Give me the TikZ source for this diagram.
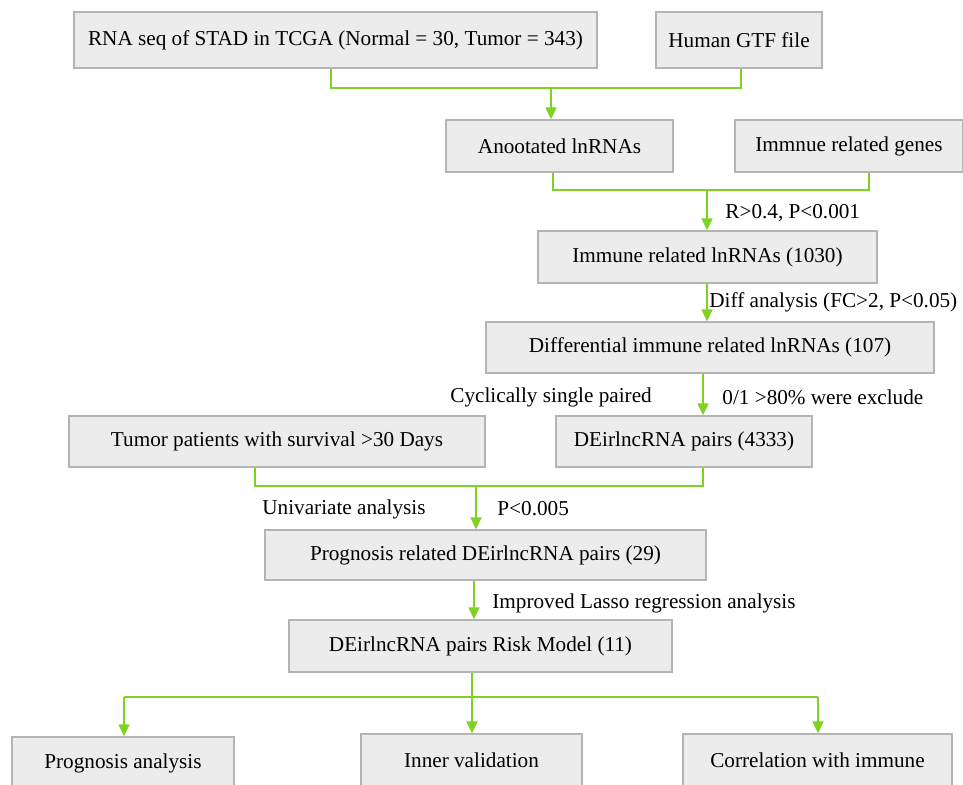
\documentclass[tikz,border=0pt]{standalone}
\usepackage{fontspec}
\setmainfont{Liberation Serif}
\usetikzlibrary{arrows.meta,positioning}
\definecolor{boxfill}{HTML}{ECECEC}
\definecolor{boxline}{HTML}{B4B4B4}
\definecolor{linkgreen}{HTML}{7ED321}

\begin{document}
\begin{tikzpicture}[
    x=0.5pt, y=-0.5pt,
    box/.style={draw=boxline, fill=boxfill, line width=0.7pt, minimum height=26pt, inner sep=0pt, align=center},
    lbl/.style={anchor=west, inner sep=0pt},
    link/.style={draw=linkgreen, line width=0.75pt},
    >={Triangle[width=5.5pt,length=6pt]},
    every node/.style={font=\fontsize{10.6}{13}\selectfont}
]
\clip (0,0) rectangle (963,784);

\node[box, minimum width=261.5pt, minimum height=28pt] (rna) at (335.5,40) {RNA seq of STAD in TCGA (Normal = 30, Tumor = 343)};
\node[box, minimum width=83pt, minimum height=28pt] (gtf) at (739,40) {Human GTF file};

\node[box, minimum width=113.5pt] (ann) at (559.5,146) {Anootated lnRNAs};
\node[box, minimum width=114pt] (genes) at (849,146) {Immnue related genes};

\node[box, minimum width=169.5pt] (irl) at (707.5,257) {Immune related lnRNAs (1030)};
\node[box, minimum width=224pt, minimum height=25.5pt] (dif) at (710,347.5) {Differential immune related lnRNAs (107)};

\node[box, minimum width=208pt, minimum height=25.5pt] (tum) at (277,441.5) {Tumor patients with survival >30 Days};
\node[box, minimum width=128pt, minimum height=25.5pt] (pair) at (684,441.5) {DEirlncRNA pairs (4333)};

\node[box, minimum width=220.5pt, minimum height=25pt] (prog) at (485.5,555) {Prognosis related DEirlncRNA pairs (29)};
\node[box, minimum width=191.5pt] (risk) at (480.5,646) {DEirlncRNA pairs Risk Model (11)};

\node[box, minimum width=111pt] (pa) at (123,763) {Prognosis analysis};
\node[box, minimum width=110.5pt] (iv) at (471.5,760) {Inner validation};
\node[box, minimum width=134.5pt] (corr) at (817.5,760) {Correlation with immune};

% labels beside the arrows
\node[lbl] at (725,213) {R>0.4, P<0.001};
\node[lbl] at (709,302) {Diff analysis (FC>2, P<0.05)};
\node[lbl] at (450,397) {Cyclically single paired};
\node[lbl] at (722,397) {0/1 >80\% were exclude};
\node[lbl] at (262,509) {Univariate analysis};
\node[lbl] at (497,509) {P<0.005};
\node[lbl] at (492,603) {Improved Lasso regression analysis};

% junction points
\coordinate (j1) at (551,88);
\coordinate (j1l) at (331,88);
\coordinate (j1r) at (741,88);
\coordinate (j2) at (707,190);
\coordinate (j2l) at (553,190);
\coordinate (j2r) at (869,190);
\coordinate (j3) at (476,486);
\coordinate (j3l) at (255,486);
\coordinate (j3r) at (703,486);
\coordinate (j4) at (474,600);
\coordinate (fork) at (472,697);
\coordinate (forkl) at (124,697);
\coordinate (forkr) at (818,697);

\draw[link] (rna.south -| j1l) -- (j1l) -- (j1r) -- (gtf.south -| j1r);
\draw[link, ->] (j1) -- (j1 |- ann.north);

\draw[link] (ann.south -| j2l) -- (j2l) -- (j2r) -- (genes.south -| j2r);
\draw[link, ->] (j2) -- (j2 |- irl.north);

\draw[link, ->] (irl.south -| j2) -- (dif.north -| j2);
\draw[link, ->] (dif.south -| j3r) -- (pair.north -| j3r);

\draw[link] (tum.south -| j3l) -- (j3l) -- (j3r) -- (pair.south -| j3r);
\draw[link, ->] (j3) -- (j3 |- prog.north);

\draw[link, ->] (prog.south -| j4) -- (risk.north -| j4);

\draw[link] (risk.south -| fork) -- (fork);
\draw[link] (forkl) -- (forkr);
\draw[link, ->] (forkl) -- (pa.north -| forkl);
\draw[link, ->] (fork) -- (iv.north -| fork);
\draw[link, ->] (forkr) -- (corr.north -| forkr);

\end{tikzpicture}
\end{document}
